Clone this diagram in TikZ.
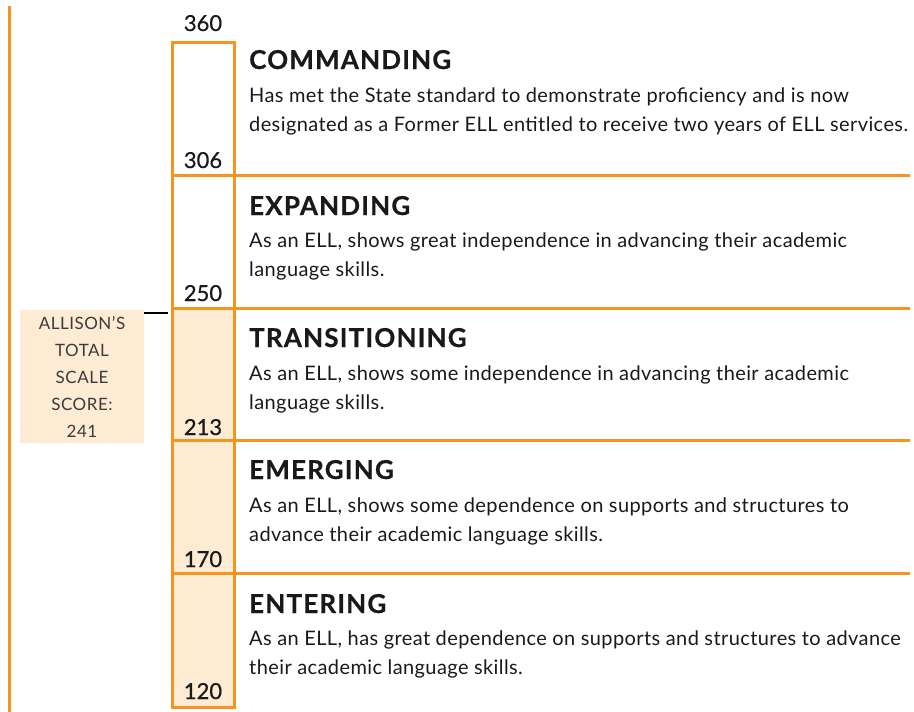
\documentclass[tikz,border=0pt]{standalone}
\usepackage{fontspec}
\setmainfont{Lato}
\usepackage{xcolor}
\usepackage{tikz}
\usetikzlibrary{calc}
\definecolor{ellorange}{RGB}{247,148,29}
\definecolor{ellpeach}{RGB}{253,235,212}
\definecolor{elltext}{RGB}{25,25,25}
\tikzstyle{levelline} = [draw=ellorange, line width=3pt]
\tikzstyle{cutnum} = [font=\fontsize{22}{22}\selectfont\addfontfeature{FakeBold=0.6}, text=elltext, anchor=base, inner sep=0pt]
\tikzstyle{leveltitle} = [font=\bfseries\fontsize{26}{26}\selectfont\addfontfeature{LetterSpace=4.5,FakeBold=0.6}, text=elltext, anchor=base west, inner sep=0pt]
\tikzstyle{leveltext} = [font=\fontsize{20}{29}\selectfont\addfontfeature{LetterSpace=2}, text=elltext, anchor=base west, inner sep=0pt, align=left]
\tikzset{scorebox/.style={fill=ellpeach, minimum width=124pt, minimum height=133pt, inner sep=0pt, align=center, text=elltext!85, font=\fontsize{17}{27}\selectfont\addfontfeature{LetterSpace=3}}}

\begin{document}
\begin{tikzpicture}[x=1pt, y=-1pt]

 \useasboundingbox (0,0) rectangle (914,712);

 %axis
 \draw[levelline] (9,6) -- (9,712);

 %bar
  \def\bl{172};
  \def\br{234};
  \def\tx{249};

 \fill[ellpeach] (\bl,308) rectangle (\br,707);
 \foreach \y in {175,308,440,573}
        \draw[levelline] (\bl,\y) -- (910,\y);
 \draw[levelline] (\bl,42) rectangle (\br,707);

 %cut scores
   \foreach \y/\name/\label in {31/c360/360, 168/c306/306, 301/c250/250, 435/c213/213, 567/c170/170, 699/c120/120}
          \node[cutnum] (\name) at (203,\y) {\label};

 %levels
   \foreach \y/\name/\label in {69/commanding/COMMANDING, 215/expanding/EXPANDING, 347/transitioning/TRANSITIONING, 479/emerging/EMERGING, 613/entering/ENTERING}
          \node[leveltitle] (\name) at (\tx,\y) {\label};

 %descriptions (base = second line)
   \foreach \y/\name/\label in {
      131/commandingtxt/{Has met the State standard to demonstrate proficiency and is now\\designated as a Former ELL entitled to receive two years of ELL services.},
      276/expandingtxt/{As an ELL, shows great independence in advancing their academic\\language skills.},
      409/transitioningtxt/{As an ELL, shows some independence in advancing their academic\\language skills.},
      541/emergingtxt/{As an ELL, shows some dependence on supports and structures to\\advance their academic language skills.},
      674/enteringtxt/{As an ELL, has great dependence on supports and structures to advance\\their academic language skills.}}
          \node[leveltext] (\name) at (\tx,\y) {\label};

 %student score
 \node[scorebox] (score) at (82,376.5) {ALLISON’S\\TOTAL\\SCALE\\SCORE:\\241};
 \coordinate (tickend) at (168,313);
 \draw[line width=2.5pt] (score.north east |- tickend) -- (tickend);

\end{tikzpicture}
\end{document}
